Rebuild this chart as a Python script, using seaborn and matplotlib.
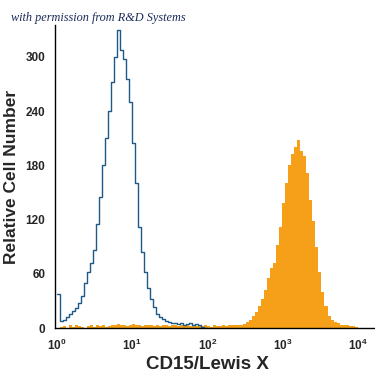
import numpy as np
import pandas as pd
import matplotlib
matplotlib.use("Agg")
import matplotlib.pyplot as plt
import seaborn as sns

sns.set_style("white")
plt.rcParams['font.family'] = ['Liberation Sans', 'DejaVu Sans']
plt.rcParams['mathtext.default'] = 'regular'

# -----------------------------
# Data (counts per log bin, bin width 0.04 decades starting at 10^0)
# -----------------------------
bin_step = 0.04

# isotype control (blue outline), 10^0 .. 10^2
control_counts = [38, 8, 9, 12, 16, 19, 22, 28, 36, 50,
                  62, 72, 86, 115, 145, 180, 210, 240, 272, 300,
                  330, 308, 298, 275, 250, 205, 160, 112, 84, 62,
                  44, 32, 23, 16, 12, 10, 8, 7, 6, 6,
                  5, 6, 4, 5, 6, 4, 5, 3, 1, 0]

# CD15 / Lewis X stained (orange fill), 10^0 .. 10^4
cd15_counts = [0, 1, 2, 0, 3, 1, 4, 2, 1, 0,
               2, 3, 1, 4, 2, 3, 1, 2, 4, 3,
               5, 3, 4, 2, 3, 5, 4, 3, 2, 4,
               3, 4, 2, 3, 2, 4, 3, 2, 3, 4,
               2, 3, 4, 3, 2, 3, 2, 3, 2, 3,
               2, 1, 3, 2, 2, 3, 2, 3, 3, 4,
               4, 4, 5, 7, 9, 13, 18, 24, 32, 42,
               55, 66, 72, 92, 112, 138, 160, 180, 192, 200,
               208, 196, 190, 172, 142, 118, 90, 62, 40, 24,
               13, 9, 7, 6, 4, 3, 3, 2, 2, 1]

y_ticks = [0, 60, 120, 180, 240, 300]


def to_frame(counts):
    centers = (np.arange(len(counts)) + 0.5) * bin_step
    return pd.DataFrame({"x": 10 ** centers, "n": counts})


ctrl = to_frame(control_counts)
cd15 = to_frame(cd15_counts)

fig = plt.figure(figsize=(3.75, 3.75), dpi=100)
ax = fig.add_axes([0.147, 0.125, 0.85, 0.808])

sns.histplot(data=cd15, x="x", weights="n", log_scale=True,
             bins=len(cd15_counts), binrange=(0, len(cd15_counts) * bin_step),
             element="step", fill=True, color="#f6a01a", alpha=1, linewidth=0, ax=ax)
sns.histplot(data=ctrl, x="x", weights="n", log_scale=True,
             bins=len(control_counts), binrange=(0, len(control_counts) * bin_step),
             element="step", fill=False, color="#1d5a88", linewidth=1.0, ax=ax)

ax.set_xlim(0.94, 1.65e4)
ax.set_ylim(0, 335)
ax.set_yticks(y_ticks)
sns.despine(ax=ax)
for s in ["left", "bottom"]:
    ax.spines[s].set_color("black")
    ax.spines[s].set_linewidth(1.0)

ax.tick_params(axis="both", which="major", direction="out", length=5, width=0.8,
               color="#555555", labelsize=8.5)
ax.tick_params(axis="x", which="minor", direction="out", length=3, width=0.6,
               color="#777777")
ax.tick_params(axis="both", pad=2)
for lab in ax.get_xticklabels() + ax.get_yticklabels():
    lab.set_fontweight("bold")

ax.set_xlabel("CD15/Lewis X", fontsize=13.5, fontweight="bold",
              family=["Liberation Sans Narrow", "Liberation Sans"])
ax.xaxis.set_label_coords(0.478, -0.092)
ax.set_ylabel("Relative Cell Number", fontsize=12.5, fontweight="bold", labelpad=5)

fig.text(0.03, 0.945, "with permission from R&D Systems", fontsize=8.8,
         style="italic", family="Liberation Serif", color="#1a2a5a")

fig.savefig("out.png", dpi=100, facecolor="white")
